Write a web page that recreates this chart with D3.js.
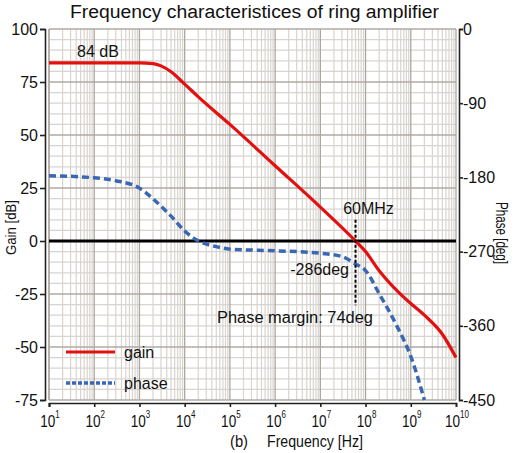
<!DOCTYPE html>
<html>
<head>
<meta charset="utf-8">
<script src="https://cdn.jsdelivr.net/npm/d3@7"></script>
<style>
  body { margin: 0; background: #fff; }
  text { font-family: "Liberation Sans", Arial, sans-serif; fill: #111; }
</style>
</head>
<body>
<div id="chart"></div>
<script>
// values
var gainFreq = [1e1, 1e2, 1e3, 2e3, 3e3, 5e3, 1e4, 2e4, 1e5, 1e6, 1e7, 6e7, 1e8, 2e8, 5e8, 1e9, 2e9, 5e9, 1e10];
var gainDb = [84, 84, 84, 83.7, 82.6, 79.8, 74, 68, 55, 35.5, 16, 0, -5, -14, -23.5, -29.5, -35, -44, -55];

var phaseFreq = [1e1, 1e2, 3e2, 1e3, 2e3, 3e3, 5e3, 1e4, 2e4, 5e4, 1e5, 1e6, 1e7, 3e7, 6e7, 1e8, 2e8, 5e8, 1e9, 2e9];
var phaseDeg = [-178, -180.5, -184, -193, -206, -215, -227, -245, -257, -264, -267, -269, -272, -276, -285, -293, -321, -361, -397, -450];

var gainTicks = [100, 75, 50, 25, 0, -25, -50, -75];
var phaseTicks = [0, -90, -180, -270, -360, -450];
var freqExponents = [1, 2, 3, 4, 5, 6, 7, 8, 9, 10];

var crossFreq = 6e7;      // 0 dB crossing
var crossPhase = -286;

var svgWidth = 515, svgHeight = 453;
var plot = { left: 49, right: 456, top: 29, bottom: 400 };

var svg = d3.select("#chart").append("svg")
  .attr("width", svgWidth)
  .attr("height", svgHeight);

svg.append("rect").attr("width", svgWidth).attr("height", svgHeight).attr("fill", "#fff");

var x = d3.scaleLog().domain([1e1, 1e10]).range([plot.left, plot.right]);
var yGain = d3.scaleLinear().domain([-75, 100]).range([plot.bottom, plot.top]);
var yPhase = d3.scaleLinear().domain([-450, 0]).range([plot.bottom, plot.top]);

// grid
var grid = svg.append("g");
var minorX = [];
for (var k = 1; k < 10; k++) {
  for (var m = 2; m < 10; m++) minorX.push(m * Math.pow(10, k));
}
grid.selectAll(".vminor").data(minorX).enter().append("line")
  .attr("x1", d => x(d)).attr("x2", d => x(d))
  .attr("y1", plot.top).attr("y2", plot.bottom)
  .attr("stroke", "#d8d4d0").attr("stroke-width", 1.2);

var minorY = d3.range(-75, 101, 5).filter(d => d % 25 !== 0);
grid.selectAll(".hminor").data(minorY).enter().append("line")
  .attr("x1", plot.left).attr("x2", plot.right)
  .attr("y1", d => yGain(d)).attr("y2", d => yGain(d))
  .attr("stroke", "#d8d4d0").attr("stroke-width", 1.2);

grid.selectAll(".hmajor").data(gainTicks).enter().append("line")
  .attr("x1", plot.left).attr("x2", plot.right)
  .attr("y1", d => yGain(d)).attr("y2", d => yGain(d))
  .attr("stroke", "#b1aaa4").attr("stroke-width", 1.3);

var decades = [1].concat(freqExponents).map(e => Math.pow(10, e));
grid.selectAll(".vmajor").data(decades).enter().append("line")
  .attr("x1", d => x(d)).attr("x2", d => x(d))
  .attr("y1", plot.top).attr("y2", plot.bottom)
  .attr("stroke", "#ada69f").attr("stroke-width", 1.3);

// axes
var leftAxis = d3.axisLeft(yGain).tickValues(gainTicks).tickSize(5).tickSizeOuter(5).tickFormat("");
var gLeft = svg.append("g").attr("transform", "translate(45,0)").call(leftAxis);

var rightAxis = d3.axisRight(yPhase).tickValues(phaseTicks).tickSize(4).tickSizeOuter(4).tickFormat("");
var gRight = svg.append("g").attr("transform", "translate(459,0)").call(rightAxis);

var bottomAxis = d3.axisBottom(x).tickValues(decades).tickSize(4).tickSizeOuter(4).tickFormat("");
var gBottom = svg.append("g").attr("transform", "translate(0,403)").call(bottomAxis);

[gLeft, gRight, gBottom].forEach(function (g) {
  g.selectAll("path, line").attr("stroke", "#222").attr("stroke-width", 1.6);
});

// tick labels
svg.selectAll(".gainLabel").data(gainTicks).enter().append("text")
  .attr("x", 38).attr("y", d => yGain(d)).attr("dy", "0.35em")
  .attr("text-anchor", "end").attr("font-size", 16)
  .text(d => d);

svg.selectAll(".phaseLabel").data(phaseTicks).enter().append("text")
  .attr("x", 463).attr("y", d => yPhase(d)).attr("dy", "0.35em")
  .attr("font-size", 16)
  .text(d => d);

var xLabels = svg.selectAll(".freqLabel").data(freqExponents).enter()
  .append("text")
  .attr("transform", d => `translate(${x(Math.pow(10, d)) + 1},427) scale(0.8,1)`)
  .attr("text-anchor", "middle")
  .attr("font-size", 17);
xLabels.append("tspan").text("10");
xLabels.append("tspan").attr("dy", -9).attr("font-size", 10).text(d => d);

// zero line
svg.append("line")
  .attr("x1", plot.left).attr("x2", plot.right)
  .attr("y1", yGain(0)).attr("y2", yGain(0))
  .attr("stroke", "#000").attr("stroke-width", 3);

// curves
var gainLine = d3.line()
  .x((d, i) => x(gainFreq[i]))
  .y(d => yGain(d))
  .curve(d3.curveMonotoneX);

var phaseLine = d3.line()
  .x((d, i) => x(phaseFreq[i]))
  .y(d => yPhase(d))
  .curve(d3.curveMonotoneX);

svg.append("path").datum(phaseDeg)
  .attr("d", phaseLine)
  .attr("fill", "none")
  .attr("stroke", "#3a67b1").attr("stroke-width", 3.5)
  .attr("stroke-dasharray", "7,4");

svg.append("path").datum(gainDb)
  .attr("d", gainLine)
  .attr("fill", "none")
  .attr("stroke", "#e2100f").attr("stroke-width", 3.2);

// phase margin marker
svg.append("line")
  .attr("x1", x(crossFreq)).attr("x2", x(crossFreq))
  .attr("y1", yGain(10)).attr("y2", yPhase(-335))
  .attr("stroke", "#000").attr("stroke-width", 2)
  .attr("stroke-dasharray", "3,2");

// annotations
svg.append("text").attr("x", 77).attr("y", 57).attr("font-size", 16).text("84 dB");
svg.append("text").attr("x", x(crossFreq) + 13).attr("y", 214).attr("font-size", 16)
  .attr("text-anchor", "middle").text("60MHz");
svg.append("text").attr("x", 349).attr("y", 275).attr("font-size", 16)
  .attr("text-anchor", "end").text(crossPhase + "deg");
svg.append("text").attr("x", 217).attr("y", 323).attr("font-size", 16)
  .attr("textLength", 156).attr("lengthAdjust", "spacingAndGlyphs")
  .text("Phase margin: 74deg");

// legend
svg.append("line").attr("x1", 66).attr("x2", 115).attr("y1", 352).attr("y2", 352)
  .attr("stroke", "#e2100f").attr("stroke-width", 3.2);
svg.append("text").attr("x", 124).attr("y", 358).attr("font-size", 16).text("gain");
svg.append("line").attr("x1", 66).attr("x2", 115).attr("y1", 383).attr("y2", 383)
  .attr("stroke", "#3a67b1").attr("stroke-width", 3.5).attr("stroke-dasharray", "4,2");
svg.append("text").attr("x", 124).attr("y", 389).attr("font-size", 16).text("phase");

// titles
svg.append("text").attr("x", 70).attr("y", 18).attr("font-size", 18)
  .attr("textLength", 369).attr("lengthAdjust", "spacingAndGlyphs")
  .text("Frequency characteristices of ring amplifier");

svg.append("text").attr("x", 230).attr("y", 447).attr("font-size", 16)
  .attr("textLength", 18).attr("lengthAdjust", "spacingAndGlyphs").text("(b)");
svg.append("text").attr("x", 267).attr("y", 447).attr("font-size", 16)
  .attr("textLength", 96).attr("lengthAdjust", "spacingAndGlyphs").text("Frequency [Hz]");

svg.append("text").attr("transform", "translate(16,200) rotate(-90)")
  .attr("x", -55).attr("font-size", 15)
  .attr("textLength", 55).attr("lengthAdjust", "spacingAndGlyphs").text("Gain [dB]");

svg.append("text").attr("transform", "translate(496,202) rotate(90)")
  .attr("font-size", 16)
  .attr("textLength", 62).attr("lengthAdjust", "spacingAndGlyphs").text("Phase [deg]");
</script>
</body>
</html>
